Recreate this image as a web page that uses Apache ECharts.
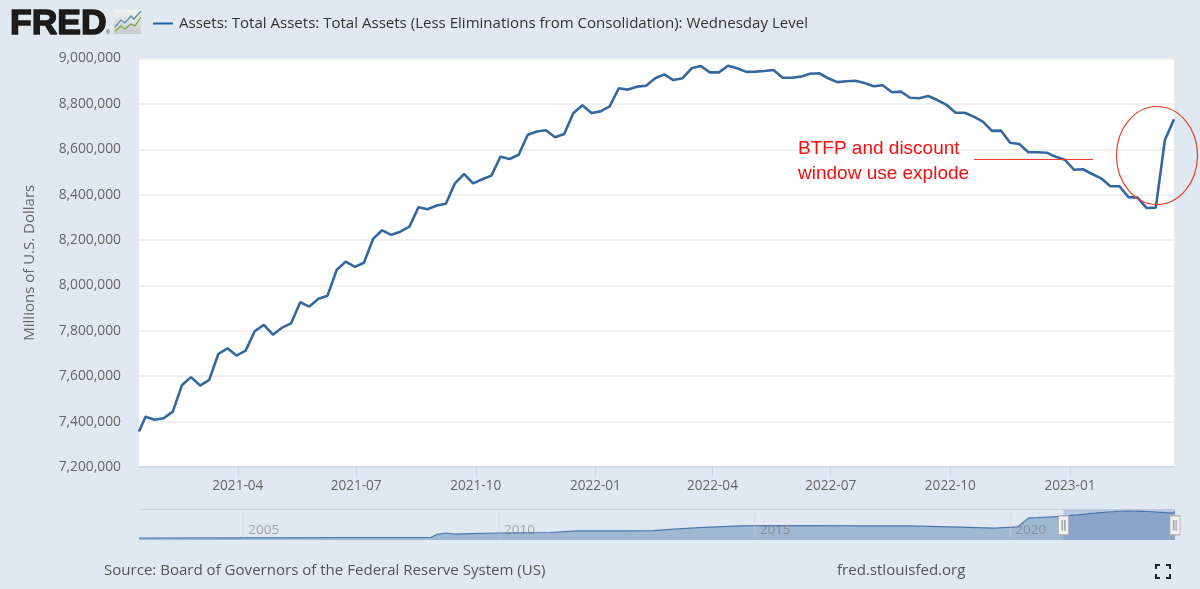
<!DOCTYPE html>
<html>
<head>
<meta charset="utf-8">
<style>html,body{margin:0;padding:0;background:#e0e9f1}#c{width:1200px;height:589px}</style>
<script src="https://cdn.jsdelivr.net/npm/echarts@6/dist/echarts.min.js"></script>
</head>
<body>
<div id="c"></div>
<script>
const seriesName = 'Assets: Total Assets: Total Assets (Less Eliminations from Consolidation): Wednesday Level';
const firstWeek = '2021-01-13';
const axisStart = '2021-01-15';
const axisEnd = '2023-03-22';
const assets = [
 7356,7421,7408,7415,7444,7560,7596,7559,7584,7698,7723,7691,7713,7798,7826,7783,7814,7833,7926,7907,
 7941,7955,8068,8105,8082,8100,8205,8243,8223,8237,8259,8345,8336,8352,8360,8450,8491,8450,8468,8484,
 8567,8557,8576,8664,8678,8684,8653,8667,8759,8794,8760,8767,8789,8869,8863,8876,8880,8913,8930,8905,
 8913,8957,8967,8939,8939,8968,8957,8941,8942,8945,8949,8915,8915,8920,8933,8935,8913,8896,8900,8902,
 8892,8878,8882,8851,8854,8827,8825,8835,8817,8796,8761,8761,8744,8722,8681,8682,8629,8623,8587,8587,
 8585,8567,8554,8510,8512,8491,8472,8437,8437,8389,8387,8341,8343,8641,8732
];
const tickDates = ['2021-04-01','2021-07-01','2021-10-01','2022-01-01','2022-04-01','2022-07-01','2022-10-01','2023-01-01'];
const tickLabels = ['2021-04','2021-07','2021-10','2022-01','2022-04','2022-07','2022-10','2023-01'];
const navDates = ['2002-12-18','2005-01-05','2007-01-03','2008-09-03','2008-10-15','2008-12-17','2009-02-18','2009-06-17','2010-01-06','2011-01-05','2011-07-06','2012-06-06','2013-01-02','2013-07-03','2014-01-01','2014-10-01','2016-01-06','2017-01-04','2018-01-03','2019-01-02','2019-09-11','2020-02-26','2020-03-25','2020-05-13','2020-07-08'];
const navValues = [720,760,870,905,1800,2250,1900,2050,2240,2400,2870,2870,2950,3500,4000,4450,4480,4450,4400,4050,3760,4150,5250,6900,6950];
const navYears = ['2005-01-01','2010-01-01','2015-01-01','2020-01-01'];
const navYearLabels = ['2005','2010','2015','2020'];
const noteLines = 'BTFP and discount\nwindow use explode';
const source = 'Source: Board of Governors of the Federal Reserve System (US)';
const site = 'fred.stlouisfed.org';
const yName = 'Millions of U.S. Dollars';

const DAY = 86400000;
const ts = s => { const [y,m,d] = s.split('-').map(Number); return Date.UTC(y,m-1,d); };
const mainData = assets.map((v,i) => [Math.max(ts(firstWeek)+i*7*DAY, ts(axisStart)), v*1000]);
const navData = navDates.map((d,i)=>[ts(d),navValues[i]*1000]).concat(mainData);
const tickTs = tickDates.map(ts);
const navTs = navYears.map(ts);
const FONT = '"Open Sans"';
const handle = 'path://M0 0H10V20H0Z M3.2 5V15H4.2V5Z M5.8 5V15H6.8V5Z';
const navMin = 100000, navMax = 9450000;

const chart = echarts.init(document.getElementById('c'));
chart.setOption({
  animation:false,
  backgroundColor:'#e0e9f1',
  textStyle:{fontFamily:FONT},
  legend:{
    left:148, top:11, itemWidth:20, itemHeight:2, itemGap:0,
    data:[{name:seriesName, icon:'rect', itemStyle:{color:'#1b64ab'}}],
    textStyle:{fontFamily:FONT,fontSize:15.05,color:'#333',padding:[0,0,0,1]},
    selectedMode:false
  },
  grid:[
    {left:139,right:26,top:58.5,bottom:122,show:true,backgroundColor:'#fff',borderWidth:0},
    {left:139,right:25,top:509.5,bottom:49,show:false}
  ],
  xAxis:[
    {type:'value',gridIndex:0,min:ts(axisStart),max:ts(axisEnd),scale:true,
     axisLine:{lineStyle:{color:'#ccd6eb',width:1.5}},
     axisTick:{show:true,length:10,customValues:tickTs,lineStyle:{color:'#ccd6eb'}},
     axisLabel:{customValues:tickTs,margin:12,color:'#666',fontSize:13.6,fontFamily:FONT,
       formatter:v=>tickLabels[tickTs.indexOf(v)]||''},
     splitLine:{show:false}},
    {type:'value',gridIndex:1,min:ts(navDates[0]),max:ts(axisEnd),scale:true,z:5,
     axisLine:{show:false},
     axisTick:{show:true,inside:true,length:30,customValues:navTs,lineStyle:{color:'rgba(205,205,205,.35)'}},
     axisLabel:{customValues:navTs,inside:true,margin:3,align:'left',padding:[0,0,0,5],color:'rgba(120,120,120,.62)',fontSize:13.5,fontFamily:FONT,
       formatter:v=>navYearLabels[navTs.indexOf(v)]||''},
     splitLine:{show:false}}
  ],
  yAxis:[
    {type:'value',gridIndex:0,min:7200000,max:9000000,interval:200000,
     name:yName,nameLocation:'middle',nameGap:102,nameRotate:90,
     nameTextStyle:{color:'#666',fontSize:15,fontFamily:FONT},
     axisLine:{show:false},axisTick:{show:false},
     axisLabel:{margin:18,color:'#666',fontSize:13.8,fontFamily:FONT,formatter:v=>v.toLocaleString('en-US')},
     splitLine:{lineStyle:{color:'#ececec',width:1.6}}},
    {type:'value',gridIndex:1,min:navMin,max:navMax,show:false}
  ],
  series:[
    {name:seriesName,type:'line',xAxisIndex:0,yAxisIndex:0,data:mainData,showSymbol:false,clip:true,
     lineStyle:{color:'#34689f',width:2.6},itemStyle:{color:'#34689f'},emphasis:{disabled:true}},
    {name:'nav',type:'line',xAxisIndex:1,yAxisIndex:1,data:navData,showSymbol:false,
     lineStyle:{color:'#4a78ad',width:1.2},itemStyle:{color:'#4a78ad'},
     areaStyle:{color:'rgba(69,114,167,.58)',origin:'start'},
     markArea:{silent:true,itemStyle:{color:'rgba(102,133,194,.3)'},
       data:[[{xAxis:ts(axisStart),yAxis:navMin},{xAxis:ts(axisEnd),yAxis:navMax}]]},
     markPoint:{silent:true,symbol:handle,symbolSize:[10,19],
       itemStyle:{color:'#f3f3f3',borderColor:'#aaa',borderWidth:1},label:{show:false},
       data:[{coord:[ts(axisStart),4600000]},{coord:[ts(axisEnd),4600000]}]}}
  ],
  graphic:[
    {type:'line',silent:true,z:1,shape:{x1:139,y1:509.5,x2:1175,y2:509.5},style:{stroke:'#ccd3dc',lineWidth:1}},
    {type:'text',x:10,y:6,z:20,style:{text:'FRED',font:'bold 35.5px "Liberation Sans"',fill:'#1c1a1a',stroke:'#1c1a1a',lineWidth:1.5}},
    {type:'text',x:106,y:30,z:20,style:{text:'®',font:'5px "Liberation Sans"',fill:'#1c1a1a'}},
    {type:'rect',z:20,shape:{x:114,y:10,width:27,height:24,r:1},style:{fill:new echarts.graphic.LinearGradient(0,0,0,1,[{offset:0,color:'#f1f3f3'},{offset:1,color:'#c6cbcb'}])}},
    {type:'polyline',z:21,shape:{points:[[115,27],[121,20],[125,23],[131,16],[134,19],[141,11]]},style:{stroke:'#5d8aa8',fill:'none',lineWidth:1.2}},
    {type:'polyline',z:21,shape:{points:[[115,31],[121,26],[125,29],[131,24],[135,26],[141,17]]},style:{stroke:'#76a33c',fill:'none',lineWidth:1.2}},
    {type:'text',x:798,y:136,z:20,style:{text:noteLines,font:'19px "Liberation Sans"',fill:'#fb0d0d',lineHeight:25}},
    {type:'line',z:20,shape:{x1:974,y1:159.5,x2:1093,y2:159.5},style:{stroke:'#f0402c',lineWidth:1}},
    {type:'ellipse',z:20,shape:{cx:1157,cy:155.5,rx:40.5,ry:49},style:{fill:'none',stroke:'#ec3f2b',lineWidth:1.2}},
    {type:'text',x:104,y:563,z:20,style:{text:source,font:'15.05px '+FONT,fill:'#555'}},
    {type:'text',x:837,y:563,z:20,style:{text:site,font:'15.05px '+FONT,fill:'#555'}},
    {type:'polyline',z:20,shape:{points:[[1156,569],[1156,565],[1160,565]]},style:{stroke:'#222',fill:'none',lineWidth:2}},
    {type:'polyline',z:20,shape:{points:[[1166,565],[1170,565],[1170,569]]},style:{stroke:'#222',fill:'none',lineWidth:2}},
    {type:'polyline',z:20,shape:{points:[[1156,574],[1156,578],[1160,578]]},style:{stroke:'#222',fill:'none',lineWidth:2}},
    {type:'polyline',z:20,shape:{points:[[1166,578],[1170,578],[1170,574]]},style:{stroke:'#222',fill:'none',lineWidth:2}}
  ]
});
</script>
</body>
</html>
